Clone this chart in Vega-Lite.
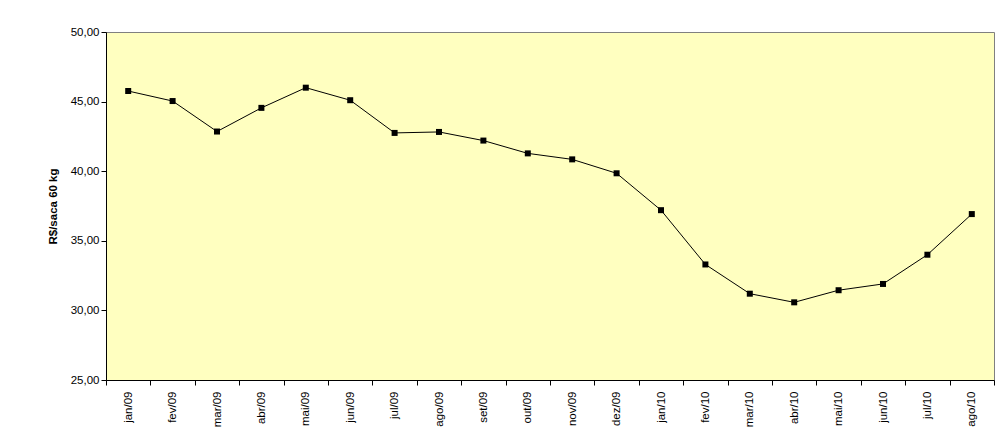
{
  "$schema": "https://vega.github.io/schema/vega-lite/v6.json",
  "width": 888,
  "height": 348,
  "autosize": {"type": "none"},
  "padding": {"left": 106, "top": 32, "right": 14, "bottom": 67},
  "background": "white",
  "config": {
    "font": "Liberation Sans",
    "view": {"fill": "#FFFFC0", "stroke": "#808080", "strokeWidth": 1},
    "axis": {"labelFont": "Liberation Sans", "labelFontSize": 11.5, "labelColor": "black", "domainColor": "black", "tickColor": "black", "grid": false}
  },
  "data": {
    "values": [
      {"mes": "jan/09", "preco": 45.76},
      {"mes": "fev/09", "preco": 45.04},
      {"mes": "mar/09", "preco": 42.85},
      {"mes": "abr/09", "preco": 44.55},
      {"mes": "mai/09", "preco": 46.0},
      {"mes": "jun/09", "preco": 45.1},
      {"mes": "jul/09", "preco": 42.75},
      {"mes": "ago/09", "preco": 42.82},
      {"mes": "set/09", "preco": 42.2},
      {"mes": "out/09", "preco": 41.28},
      {"mes": "nov/09", "preco": 40.85},
      {"mes": "dez/09", "preco": 39.85},
      {"mes": "jan/10", "preco": 37.2},
      {"mes": "fev/10", "preco": 33.3},
      {"mes": "mar/10", "preco": 31.2},
      {"mes": "abr/10", "preco": 30.58},
      {"mes": "mai/10", "preco": 31.45},
      {"mes": "jun/10", "preco": 31.9},
      {"mes": "jul/10", "preco": 34.0},
      {"mes": "ago/10", "preco": 36.92}
    ]
  },
  "mark": {"type": "line", "color": "black", "strokeWidth": 1, "point": {"shape": "square", "size": 36, "filled": true, "color": "black", "opacity": 1}},
  "encoding": {
    "x": {
      "field": "mes", "type": "ordinal", "sort": null, "title": null,
      "scale": {"type": "band", "paddingInner": 0, "paddingOuter": 0},
      "axis": {"labelAngle": -90, "labelAlign": "right", "labelBaseline": "middle", "labelPadding": 6, "tickBand": "extent", "tickSize": 5, "domainColor": "black"}
    },
    "y": {
      "field": "preco", "type": "quantitative",
      "scale": {"domain": [25, 50], "nice": false},
      "axis": {"values": [25, 30, 35, 40, 45, 50], "labelExpr": "replace(format(datum.value, '.2f'), '.', ',')", "title": "R$/saca 60 kg", "titleFontSize": 11.5, "titleFontWeight": "bold", "titlePadding": 12, "tickSize": 5}
    }
  }
}
